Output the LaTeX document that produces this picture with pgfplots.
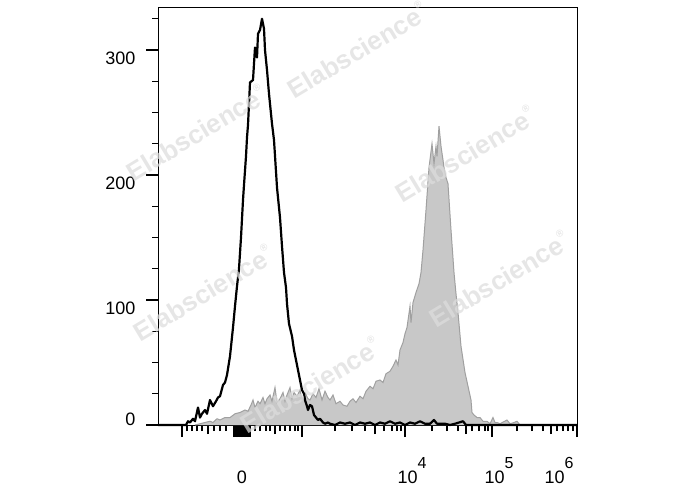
\documentclass[border=0pt]{standalone}
\usepackage{fontspec}
\setmainfont{Liberation Sans}
\usepackage{pgfplots}
\pgfplotsset{compat=1.18}
\definecolor{fillgray}{RGB}{200,200,200}
\definecolor{edgegray}{RGB}{160,160,160}
\definecolor{wm}{RGB}{221,221,221}
\newcommand{\wmark}{Elabscience\raisebox{0.55em}{\fontsize{10}{10}\selectfont ®}}
\newcommand{\tl}[1]{10{\fontsize{16}{16}\selectfont\raisebox{15pt}{#1}}}
\begin{document}
\begin{tikzpicture}
\path[use as bounding box] (0,0) rectangle (688pt,490pt);
\begin{axis}[
  at={(158pt,65pt)}, anchor=south west,
  width=419pt, height=417pt, scale only axis,
  xmin=0, xmax=419, ymin=0, ymax=333.6,
  clip=false,
  axis line style={black, line width=1pt},
  tick align=outside,
  xtick pos=bottom, ytick pos=left,
  major tick length=12pt, minor tick length=6pt,
  every major tick/.append style={line width=2.6pt, black},
  every minor tick/.append style={line width=1.3pt, black},
  tick label style={font=\fontsize{18}{18}\selectfont},
  ytick={100,200,300},
  yticklabels={100,200,300},
  minor ytick={25,50,75,125,150,175,225,250,275,325},
  yticklabel style={yshift=-8pt, xshift=-7pt},
  extra y ticks={0},
  extra y tick labels={0},
  extra y tick style={yticklabel style={yshift=14pt}},
  xtick={24,76,77.5,79,80.5,82,84,85.5,87,88.5,90,91.5,144,247,334,419},
  xticklabels={,,,,,,0,,,,,,,\kern14pt\tl{4},\kern14pt\tl{5},\tl{6}\kern36pt},
  xticklabel style={anchor=base, yshift=-46pt},
  minor xtick={29,34,39,44,56,62,68,97,102,108,112,122,127,132,137,140,177,194,207,226,234,239,243,274,289,300,314,321,327,330,359,374,385,399,405,410,415},
  extra x ticks={50,117,217,308,393},
  extra x tick labels={},
  extra x tick style={major tick length=9pt, every major tick/.append style={line width=1.6pt}},
]
\addplot[fill=fillgray, draw=edgegray, line width=1pt] table {
x y
37 0
42 1
47 2
52 3
55 2
59 5
62 4
67 6
72 6
77 9
82 10
87 12
90 11
93 16
95 20
97 14
100 19
102 17
105 22
107 17
109 21
112 24
114 19
117 30
119 18
122 21
125 26
127 19
129 24
132 30
134 21
136 26
139 23
142 28
144 20
147 26
150 21
152 20
155 25
158 22
161 29
164 20
167 27
170 22
172 20
175 24
178 17
182 19
185 16
189 15
192 19
195 21
198 18
202 23
205 21
208 27
212 31
215 29
218 35
222 36
225 34
228 41
232 43
235 47
238 52
240 48
242 60
245 66
247 73
249 78
252 95
253 82
255 98
258 106
261 113
263 122
265 140
268 172
271 206
274 225
276 209
278 223
279 215
281 239
283 223
285 212
286 206
288 198
290 193
293 156
296 122
298 105
300 90
303 63
307 42
310 31
313 20
314 10
316 8
319 6
322 6
325 3
329 3
332 1
335 6
337 2
339 2
342 1
349 4
352 1
356 2
359 3
362 0
};
\addplot[black, line width=2.2pt, line join=round] table {
x y
0 0
22 0
28 0
30 3
32 2
35 5
37 3
40 14
42 6
44 9
47 12
49 9
52 20
55 15
58 19
60 22
62 23
65 32
67 34
69 40
72 55
75 78
77 95
79 111
81 125
83 150
85 180
86 192
88 215
89 230
90 240
92 274
95 276
97 302
99 294
100 313
102 316
104 325
106 317
107 300
109 284
111 265
114 241
116 228
119 190
122 166
124 143
126 122
128 110
129 97
131 81
134 71
136 60
138 52
140 44
142 36
144 28
146 25
147 20
149 15
150 12
152 16
154 15
156 8
157 7
160 4
162 5
165 2
167 1
170 2
172 1
177 0
182 2
187 1
192 2
197 0
202 2
207 1
212 2
217 0
222 2
227 1
232 3
237 1
242 2
247 0
252 2
257 1
262 3
267 1
272 1
276 4
279 1
287 1
292 0
297 1
305 3
308 0
317 0
342 0
419 0
};
\begin{scope}[every node/.style={rotate=31, font=\bfseries\fontsize{26}{26}\selectfont, text=wm, text opacity=0.73}]
\node at (axis cs:38,234) {\wmark};
\node at (axis cs:199,300) {\wmark};
\node at (axis cs:307,217) {\wmark};
\node at (axis cs:45,106) {\wmark};
\node at (axis cs:341,117) {\wmark};
\node at (axis cs:152,32) {\wmark};
\end{scope}
\end{axis}
\end{tikzpicture}
\end{document}
